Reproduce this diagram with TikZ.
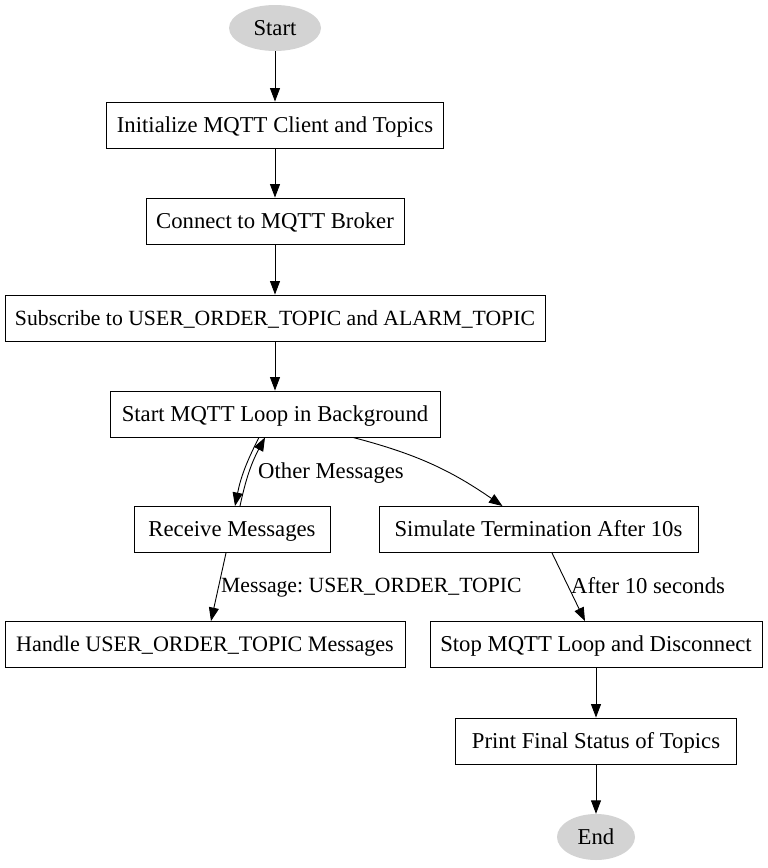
\documentclass[tikz,border=0pt]{standalone}
\usepackage{fontspec}
\setmainfont{Liberation Serif}
\usetikzlibrary{arrows.meta,shapes.geometric}
\frenchspacing
\begin{document}
\begin{tikzpicture}[x=1pt,y=-1pt,
  every node/.style={font=\fontsize{22.7}{25}\selectfont, inner sep=0pt, text height=17pt, text depth=3pt},
  caps/.style={font=\fontsize{21.7}{25}\selectfont},
  box/.style={draw, line width=0.9pt, minimum height=46pt},
  term/.style={ellipse, fill={rgb,255:red,211;green,211;blue,211}, minimum height=46pt},
  lbl/.style={anchor=west},
  arr/.style={line width=0.9pt, -{Triangle[length=13.5pt,width=10pt]}}]
\useasboundingbox (0,0) rectangle (768,868);
\node[term, minimum width=92pt] (start) at (275,28) {Start};
\node[box, minimum width=337pt] (init) at (275,125) {Initialize MQTT Client and Topics};
\node[box, minimum width=258pt] (conn) at (275,221) {Connect to MQTT Broker};
\node[box, caps, minimum width=540pt] (sub) at (275,318) {Subscribe to USER\_ORDER\_TOPIC and ALARM\_TOPIC};
\node[box, minimum width=330pt] (loop) at (275,414) {Start MQTT Loop in Background};
\node[box, minimum width=196pt] (recv) at (232,529.5) {Receive Messages};
\node[box, minimum width=319pt] (sim) at (538.5,529.5) {Simulate Termination After 10s};
\node[box, font=\fontsize{22.1}{25}\selectfont, minimum width=400pt] (handle) at (205,644.5) {Handle USER\_ORDER\_TOPIC Messages};
\node[box, minimum width=332pt] (stop) at (596,644.5) {Stop MQTT Loop and Disconnect};
\node[box, minimum width=281pt] (print) at (596,741) {Print Final Status of Topics};
\node[term, minimum width=78pt] (end) at (596,837) {End};
\draw[arr] (start) -- (init);
\draw[arr] (init) -- (conn);
\draw[arr] (conn) -- (sub);
\draw[arr] (sub) -- (loop);
\draw[arr] ([xshift=-16pt]loop.south) to[bend right=8] ([xshift=3pt]recv.north);
\draw[arr] ([xshift=8pt]recv.north) to[bend left=8] ([xshift=-10pt]loop.south);
\draw[arr] ([xshift=78pt]loop.south) to[bend left=10] ([xshift=-36pt]sim.north);
\draw[arr] ([xshift=-6pt]recv.south) -- ([xshift=6pt]handle.north);
\draw[arr] ([xshift=13.5pt]sim.south) -- ([xshift=-11pt]stop.north);
\draw[arr] (stop) -- (print);
\draw[arr] (print) -- (end);
\node[lbl] (l1) at (258,471) {Other Messages};
\node[lbl, caps] (l2) at (221,585) {Message: USER\_ORDER\_TOPIC};
\node[lbl] (l3) at (571,586) {After 10 seconds};
\end{tikzpicture}
\end{document}
